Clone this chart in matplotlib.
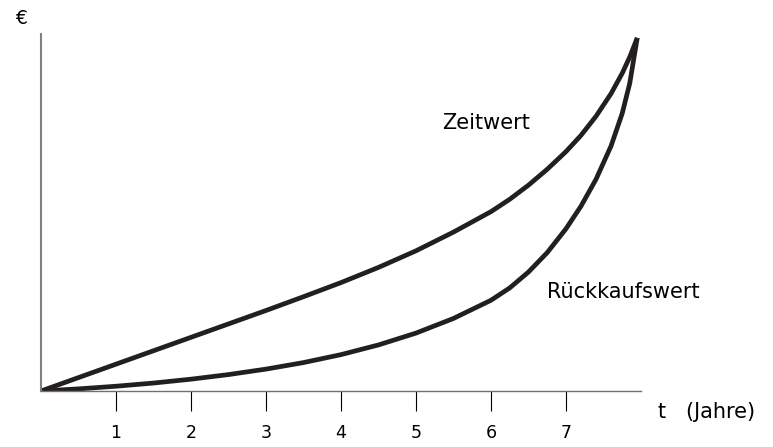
import numpy as np
import matplotlib
matplotlib.use("Agg")
import matplotlib.pyplot as plt

# values (arbitrary units, top of curves = 100)
t_vals = [0, 0.5, 1, 1.5, 2, 2.5, 3, 3.5, 4, 4.5, 5, 5.5, 6, 6.25, 6.5, 6.75,
          7, 7.2, 7.4, 7.6, 7.75, 7.85, 7.95]
zeitwert = [0, 3.8, 7.6, 11.4, 15.2, 19.0, 22.8, 26.7, 30.7, 35.0, 39.7, 45.0, 50.8,
            54.3, 58.3, 62.8, 67.8, 72.4, 77.8, 84.2, 90.0, 94.6, 100]
rueckkauf = [0, 0.6, 1.35, 2.25, 3.35, 4.65, 6.2, 8.05, 10.3, 13.05, 16.4, 20.55, 25.7,
             29.2, 33.7, 39.2, 45.95, 52.35, 59.95, 69.35, 78.65, 87.15, 100]
tick_pos = [1, 2, 3, 4, 5, 6, 7]
tick_labels = ["1", "2", "3", "4", "5", "6", "7"]

W, H = 773, 447
fig = plt.figure(figsize=(W / 100, H / 100), dpi=100)
ax = fig.add_axes([41 / W, 1 - 391 / H, 600 / W, (391 - 34) / H])

line_col = "#231f20"
for yv in (zeitwert, rueckkauf):
    ax.plot(t_vals, yv, color=line_col, lw=3.4, solid_capstyle="butt",
            solid_joinstyle="round")

ax.set_xlim(0, 8)
ax.set_ylim(0, 101.1)
ax.set_yticks([])
ax.set_xticks(tick_pos)
ax.set_xticklabels(tick_labels, fontsize=12.5)
ax.tick_params(axis="x", direction="out", length=14.4, width=0.8, color="black", pad=9)

for s in ["top", "right"]:
    ax.spines[s].set_visible(False)
ax.spines["left"].set_color("#808080")
ax.spines["left"].set_linewidth(1.5)
ax.spines["bottom"].set_color("#707070")
ax.spines["bottom"].set_linewidth(1.0)

lbl_size = 15
fig.text(21 / W, 1 - 19 / H, "€", fontsize=13.5, ha="center", va="center")
fig.text(658 / W, 1 - 412 / H, "t   (Jahre)", fontsize=lbl_size, ha="left", va="center")
fig.text(442 / W, 1 - 123 / H, "Zeitwert", fontsize=lbl_size, ha="left", va="center")
fig.text(547 / W, 1 - 292 / H, "Rückkaufswert", fontsize=lbl_size, ha="left", va="center")

fig.savefig("out.png", dpi=100)
